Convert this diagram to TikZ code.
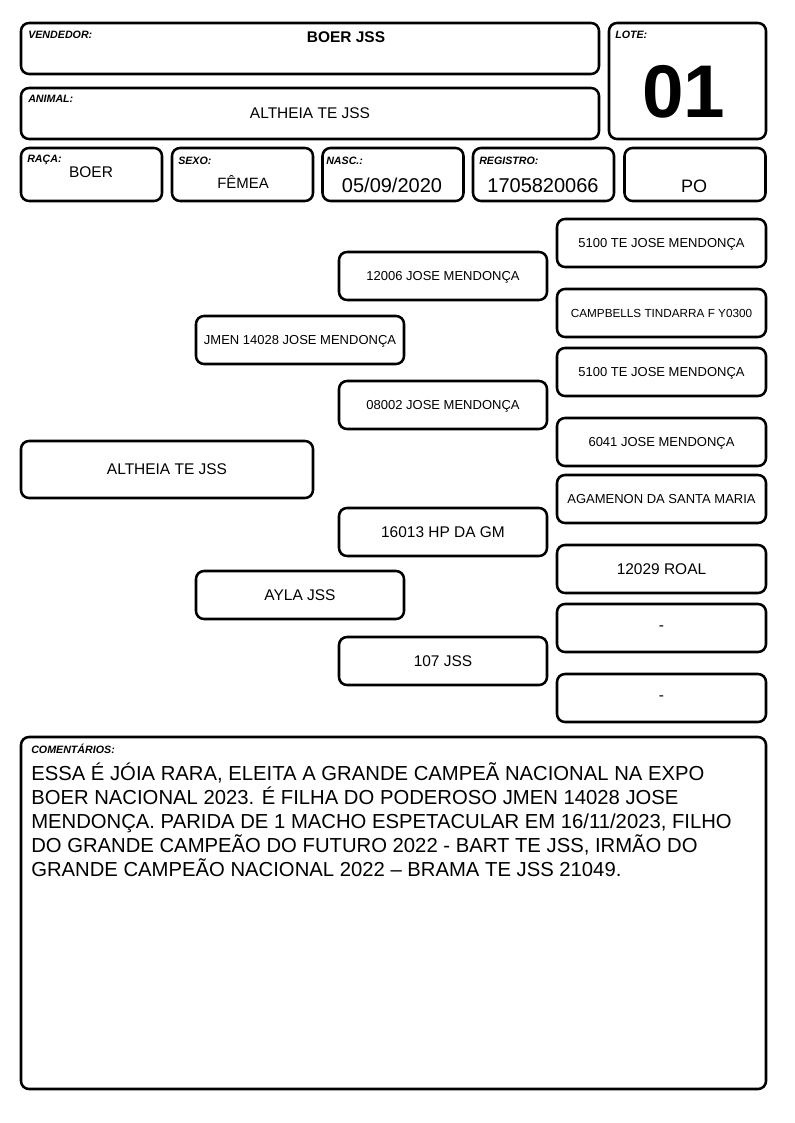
\documentclass[tikz,border=0pt]{standalone}
\usepackage{fontspec}
\setmainfont{Liberation Sans}
\usetikzlibrary{positioning}

\begin{document}
\begin{tikzpicture}[
  x=0.75pt, y=-0.75pt,
  card/.style={
    draw=black,
    shape=rectangle,
    line width=1.9pt,
    rounded corners=6pt,
    inner sep=0pt,
  },
  tag/.style={
    anchor=base west,
    inner sep=0pt,
    font=\fontsize{8}{9}\selectfont\bfseries\itshape,
  },
  entry/.style={
    anchor=base,
    inner sep=0pt,
  },
  wide/.style={card, minimum width=433.5pt, minimum height=38.25pt},
  cell/.style={card, minimum width=105.75pt, minimum height=39.75pt},
  gen0/.style={card, text depth=0pt, minimum width=219pt, minimum height=42.75pt},
  gen1/.style={card, text depth=0pt, minimum width=156pt, minimum height=36pt},
  gen3/.style={card, text depth=0pt, minimum width=156.75pt, minimum height=36pt},
  bigtxt/.style={font=\fontsize{11.6}{13}\selectfont},
  midtxt/.style={font=\fontsize{9.75}{11}\selectfont},
  smalltxt/.style={font=\fontsize{8.8}{10}\selectfont},
  numtxt/.style={font=\fontsize{15}{17}\selectfont},
  ]
  \fill[white] (0,0) rectangle (794,1123);
  \useasboundingbox (0,0) rectangle (794,1123);

  % header
  \node[wide] (vend) at (310,48.5) {};
  \node[wide] (anim) at (310,113.5) {};
  \node[card, minimum width=117.75pt, minimum height=87pt] (lote) at (687.5,81) {};
  \node[tag] (vendtag) at (28,39) {VENDEDOR:};
  \node[tag] (animtag) at (28,103) {ANIMAL:};
  \node[tag] (lotetag) at (615,39) {LOTE:};
  \node[entry, font=\fontsize{11.6}{13}\selectfont\bfseries] (vendval) at (346,43) {BOER JSS};
  \node[entry, bigtxt] (animval) at (310,119) {ALTHEIA TE JSS};
  \node[entry, font=\fontsize{56}{58}\selectfont\bfseries] (loteval) at (684,118) {01};

  % data row
  \node[cell] (raca) at (91.5,174.5) {};
  \node[cell] (sexo) at (242.5,174.5) {};
  \node[cell] (nasc) at (393,174.5) {};
  \node[cell] (reg) at (543.5,174.5) {};
  \node[cell] (cat) at (695,174.5) {};
  \node[tag] (racatag) at (27,163) {RAÇA:};
  \node[tag] (sexotag) at (178,165) {SEXO:};
  \node[tag] (nasctag) at (326,165) {NASC.:};
  \node[tag] (regtag) at (479,165) {REGISTRO:};
  \node[entry, bigtxt] (racaval) at (91,178) {BOER};
  \node[entry, font=\fontsize{11.2}{13}\selectfont] (sexoval) at (243,189) {FÊMEA};
  \node[entry, numtxt] (nascval) at (392,193) {05/09/2020};
  \node[entry, numtxt] (regval) at (543,193) {1705820066};
  \node[entry, font=\fontsize{13.5}{15}\selectfont] (catval) at (694,193) {PO};

  % pedigree
  \node[gen0, bigtxt] (animal) at (167,469.5) {ALTHEIA TE JSS};
  \node[gen1, midtxt] (pai) at (300,340) {JMEN 14028 JOSE MENDONÇA};
  \node[gen1, bigtxt] (mae) at (300,595) {AYLA JSS};
  \node[gen1, midtxt] (avop) at (443,276) {12006 JOSE MENDONÇA};
  \node[gen1, midtxt] (avap) at (443,405) {08002 JOSE MENDONÇA};
  \node[gen1, bigtxt] (avom) at (443,532) {16013 HP DA GM};
  \node[gen1, bigtxt] (avam) at (443,661) {107 JSS};
  \node[gen3, midtxt] (bisa) at (661.5,243) {5100 TE JOSE MENDONÇA};
  \node[gen3, smalltxt] (bisb) at (661.5,313) {CAMPBELLS TINDARRA F Y0300};
  \node[gen3, midtxt] (bisc) at (661.5,372) {5100 TE JOSE MENDONÇA};
  \node[gen3, midtxt] (bisd) at (661.5,442) {6041 JOSE MENDONÇA};
  \node[gen3, midtxt] (bise) at (661.5,499) {AGAMENON DA SANTA MARIA};
  \node[gen3, bigtxt] (bisf) at (661.5,569) {12029 ROAL};
  \node[gen3, bigtxt] (bisg) at (661.5,628) {-};
  \node[gen3, bigtxt] (bish) at (661.5,698) {-};

  % comments
  \node[card, minimum width=558.75pt, minimum height=264pt] (obs) at (393.5,913) {};
  \node[tag] (obstag) at (31,753) {COMENTÁRIOS:};
  \node[anchor=base west, inner sep=0pt, align=left,
    font=\fontsize{15.2}{18}\selectfont] (obstxt) at (31,876)
    {ESSA É JÓIA RARA, ELEITA A GRANDE CAMPEÃ NACIONAL NA EXPO\\
     BOER NACIONAL 2023. É FILHA DO PODEROSO JMEN 14028 JOSE\\
     MENDONÇA. PARIDA DE 1 MACHO ESPETACULAR EM 16/11/2023, FILHO\\
     DO GRANDE CAMPEÃO DO FUTURO 2022 - BART TE JSS, IRMÃO DO\\
     GRANDE CAMPEÃO NACIONAL 2022 – BRAMA TE JSS 21049.};
\end{tikzpicture}
\end{document}
